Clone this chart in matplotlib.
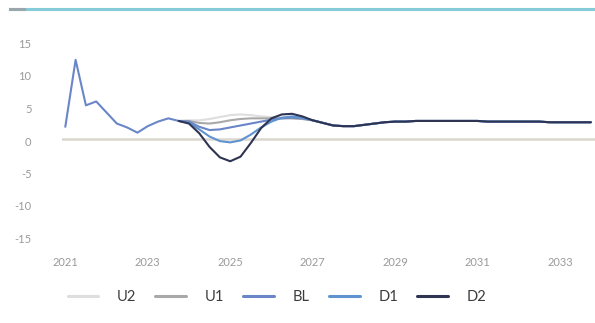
import matplotlib
matplotlib.use("Agg")
import matplotlib.pyplot as plt
import matplotlib.transforms as mtransforms
from matplotlib.lines import Line2D
import numpy as np

# Quarterly growth rates; outturn 2021Q1 .. 2023Q4
start_year = 2021.0
history = [1.8, 12.1, 5.1, 5.7, 4.0, 2.3, 1.7, 0.9, 1.9, 2.6, 3.1, 2.7]

# scenario paths 2024Q1 .. 2026Q4
u2_path = [2.8, 2.8, 3.0, 3.3, 3.6, 3.7, 3.6, 3.4, 3.3, 3.2, 3.1, 3.0]
u1_path = [2.7, 2.4, 2.3, 2.5, 2.8, 3.0, 3.1, 3.1, 3.1, 3.1, 3.1, 3.0]
bl_path = [2.6, 1.8, 1.3, 1.4, 1.7, 2.0, 2.3, 2.6, 2.9, 3.1, 3.2, 3.1]
d1_path = [2.4, 1.4, 0.3, -0.4, -0.6, -0.3, 0.6, 1.7, 2.6, 3.2, 3.4, 3.2]
d2_path = [2.3, 0.8, -1.3, -2.9, -3.5, -2.8, -0.7, 1.6, 3.1, 3.7, 3.8, 3.4]

# shared path 2027Q1 .. 2033Q4
tail = [2.8, 2.4, 2.0, 1.9, 1.9, 2.1, 2.3, 2.5,
        2.6, 2.6, 2.7, 2.7, 2.7, 2.7, 2.7, 2.7,
        2.7, 2.6, 2.6, 2.6, 2.6, 2.6, 2.6, 2.5,
        2.5, 2.5, 2.5, 2.5]

# the baseline carries the outturn; alternatives branch off its last quarter
n_hist = len(history)
scenarios = {
    "U2": (n_hist - 1, history[-1:] + u2_path + tail),
    "U1": (n_hist - 1, history[-1:] + u1_path + tail),
    "BL": (0, history + bl_path + tail),
    "D1": (n_hist - 1, history[-1:] + d1_path + tail),
    "D2": (n_hist - 1, history[-1:] + d2_path + tail),
}
colors = {
    "U2": "#dedede",
    "U1": "#a9a9a9",
    "BL": "#6a86c8",
    "D1": "#5f93d0",
    "D2": "#2e3452",
}
draw_order = ["U2", "U1", "BL", "D1", "D2"]
legend_order = ["U2", "U1", "BL", "D1", "D2"]

year_ticks = [2021, 2023, 2025, 2027, 2029, 2031, 2033]
value_ticks = [15, 10, 5, 0, -5, -10, -15]

W, H = 595, 323
fig = plt.figure(figsize=(W / 100, H / 100), dpi=100)
plt.rcParams["font.family"] = ["Lato", "DejaVu Sans"]

left, right = 62, 595
top, bottom = 28, 249
ax = fig.add_axes([left / W, 1 - bottom / H, (right - left) / W, (bottom - top) / H])
ax.set_xlim(2020.92, 2033.85)
ax.set_ylim(-17, 17)

ax.axhline(0, color="#dcd7cf", lw=1.8, zorder=1)

handles = {}
for name in draw_order:
    offset, vals = scenarios[name]
    x = start_year + 0.25 * (offset + np.arange(len(vals)))
    ln, = ax.plot(x, vals, color=colors[name], lw=1.5, zorder=3,
                  solid_joinstyle="round", solid_capstyle="round")
    handles[name] = ln

for s in ax.spines.values():
    s.set_visible(False)
ax.set_xticks(year_ticks)
ax.set_xticklabels([str(y) for y in year_ticks])
ax.set_yticks(value_ticks)
ax.set_yticklabels([str(v) for v in value_ticks])
ax.tick_params(axis="both", length=0, colors="#9a9a9a", labelsize=8)
ax.tick_params(axis="y", pad=22)
ax.tick_params(axis="x", pad=6)
shift = mtransforms.ScaledTranslation(0, -2.5 / 100, fig.dpi_scale_trans)
for lab in ax.get_yticklabels():
    lab.set_transform(lab.get_transform() + shift)

leg = fig.legend([handles[n] for n in legend_order], legend_order,
                 loc="center", bbox_to_anchor=(277 / W, 1 - 297 / H), ncol=5,
                 frameon=False, fontsize=10.5, handlelength=2.1,
                 columnspacing=1.3, handletextpad=1.3)
for t in leg.get_texts():
    t.set_color("#3c3c3c")
for h in leg.get_lines():
    h.set_linewidth(2.2)

# header rule
fig.add_artist(Line2D([10 / W, 1.0], [1 - 9 / H, 1 - 9 / H], color="#86cbd8",
                      lw=2.2, transform=fig.transFigure))
fig.add_artist(Line2D([10 / W, 24 / W], [1 - 9 / H, 1 - 9 / H], color="#9aa6ad",
                      lw=2.2, transform=fig.transFigure))

fig.savefig("out.png", dpi=100, facecolor="white")
